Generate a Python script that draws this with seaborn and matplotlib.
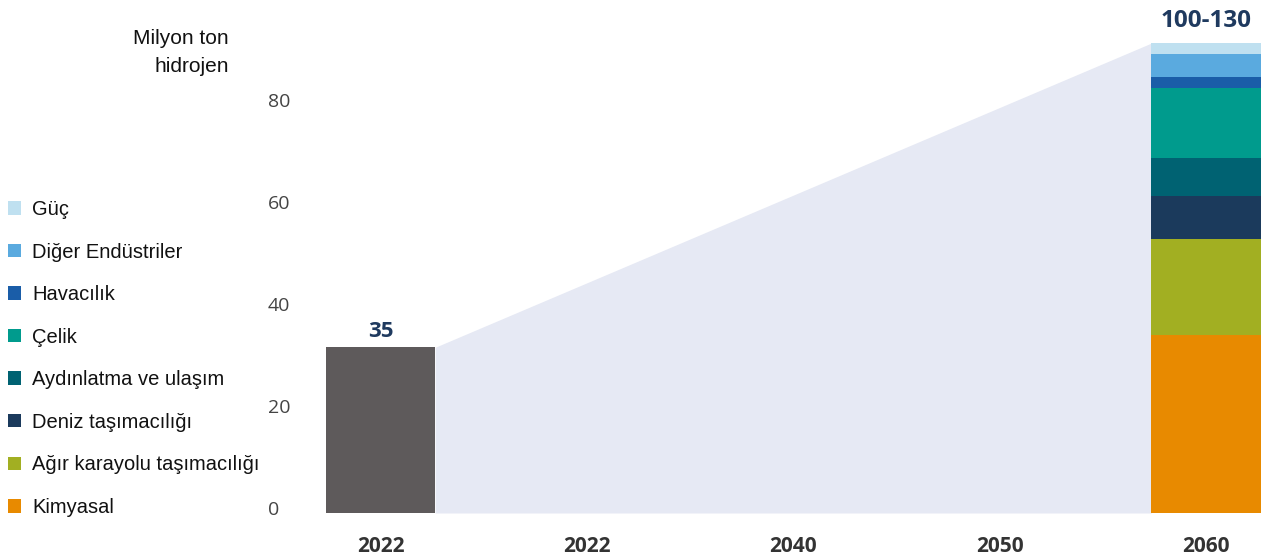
import matplotlib
matplotlib.use("Agg")
import matplotlib.pyplot as plt
import matplotlib.transforms as mtransforms
from matplotlib.patches import Patch
import numpy as np
import pandas as pd
import seaborn as sns

# ---------------- data ----------------
year_labels = ["2022", "2022", "2040", "2050", "2060"]
value_2022 = 32.5           # drawn bar height (labelled "35")
label_2022 = "35"
label_2060 = "100-130"
segments = ["Kimyasal", "Ağır karayolu taşımacılığı", "Deniz taşımacılığı",
            "Aydınlatma ve ulaşım", "Çelik", "Havacılık",
            "Diğer Endüstriler", "Güç"]
values_2060 = [34.9, 18.9, 8.45, 7.3, 13.8, 2.15, 4.55, 2.1]
colors = ["#E88A00", "#A2AF22", "#1B3A5C", "#006272", "#009B8D",
          "#1A5DA8", "#5AAADF", "#BFE0F0"]
y_ticks = [0, 20, 40, 60, 80]

# ---------------- figure ----------------
sns.set_theme(style="white")
plt.rcParams["font.family"] = ["Liberation Sans", "DejaVu Sans"]

fig = plt.figure(figsize=(12.68, 5.56), dpi=100)
ax = fig.add_axes([300 / 1268, 43 / 556, 968 / 1268, (513 - 28.5) / 556])

positions = [str(i) for i in range(len(year_labels))]
bar_w = 0.53

# lavender growth band (behind bars)
total_2060 = float(np.sum(values_2060))
x0 = 0 + bar_w / 2
x1 = 4 - bar_w / 2
ax.fill_between([x0, x1], [value_2022, total_2060], [0, 0],
                color="#E6E9F4", zorder=0, linewidth=0)

# 2022 bar
df22 = pd.DataFrame({"pos": positions, "val": [value_2022, 0, 0, 0, 0]})
sns.barplot(data=df22, x="pos", y="val", order=positions, color="#5E5A5B",
            width=bar_w, ax=ax, saturation=1, zorder=2,
            edgecolor="none", linewidth=0)

# stacked 2060 bar (paint cumulative totals from top to bottom)
cum = np.cumsum(values_2060)
for i in range(len(segments) - 1, -1, -1):
    df = pd.DataFrame({"pos": positions, "val": [0, 0, 0, 0, cum[i]]})
    sns.barplot(data=df, x="pos", y="val", order=positions, color=colors[i],
                width=bar_w, ax=ax, saturation=1, zorder=3,
                edgecolor="none", linewidth=0)

ax.set_xlim(-0.39, 4.30)
ax.set_ylim(0, 95)
for s in ax.spines.values():
    s.set_visible(False)
ax.set_xlabel("")
ax.set_ylabel("")

# x ticks
ax.set_xticks(range(len(year_labels)))
ax.set_xticklabels(year_labels, fontfamily="Open Sans", fontweight="bold",
                   fontsize=15, color="#333333")
ax.tick_params(axis="x", length=0, pad=16.5)

# y ticks (left-aligned, nudged up)
ax.set_yticks(y_ticks)
ax.set_yticklabels([str(t) for t in y_ticks], fontfamily="Open Sans",
                   fontsize=14, color="#444444")
ax.tick_params(axis="y", length=0, pad=23)
offset = mtransforms.ScaledTranslation(0, 5 / 100, fig.dpi_scale_trans)
for lab in ax.get_yticklabels():
    lab.set_horizontalalignment("left")
    lab.set_transform(lab.get_transform() + offset)

# value labels
ax.text(0, value_2022 + 1.0, label_2022, ha="center", va="bottom",
        fontfamily="Open Sans", fontweight="bold", fontsize=16, color="#1F3A5F")
ax.text(4, total_2060 + 2.0, label_2060, ha="center", va="bottom",
        fontfamily="Open Sans", fontweight="bold", fontsize=17.5, color="#1F3A5F")

# unit label
fig.text(229 / 1268, 1 - 38 / 556, "Milyon ton", ha="right", va="center",
         fontsize=15, color="#111111")
fig.text(229 / 1268, 1 - 66 / 556, "hidrojen", ha="right", va="center",
         fontsize=15, color="#111111")

# legend
handles = [Patch(facecolor=c, edgecolor="none") for c in colors[::-1]]
labels = segments[::-1]
fig.legend(handles, labels, loc="upper left",
           bbox_to_anchor=(4 / 1268, 1 - 196 / 556),
           frameon=False, fontsize=14.5, handlelength=0.65, handleheight=0.65,
           handletextpad=0.55, labelspacing=1.17, borderaxespad=0,
           borderpad=0.2, labelcolor="#111111")

fig.savefig("out.png", dpi=100)
